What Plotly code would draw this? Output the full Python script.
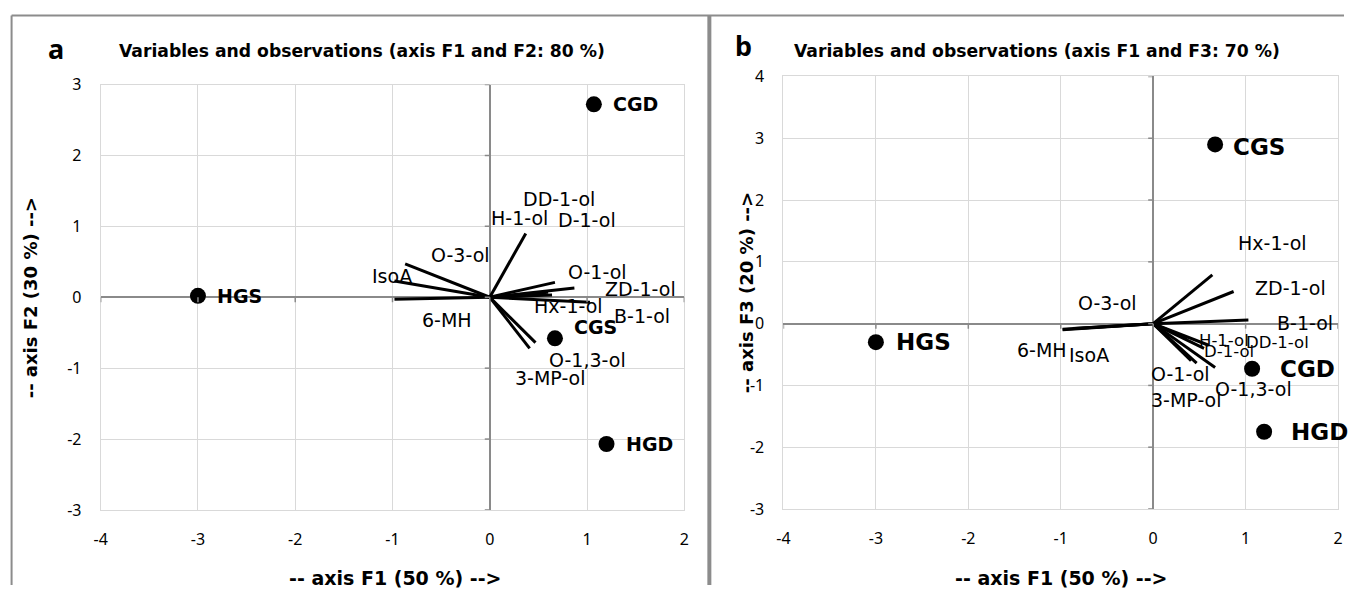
import plotly.graph_objects as go

# ---------------- data ----------------
var_names = ["H-1-ol", "DD-1-ol", "D-1-ol", "O-3-ol", "IsoA", "6-MH",
             "O-1-ol", "ZD-1-ol", "Hx-1-ol", "B-1-ol", "O-1,3-ol", "3-MP-ol"]
var_f1 = [0.37, 0.55, 0.60, -0.87, -0.98, -0.98, 0.67, 0.87, 0.64, 1.03, 0.47, 0.41]
var_f2 = [0.90, 0.04, 0.07, 0.47, 0.23, -0.03, 0.21, 0.13, 0.03, -0.07, -0.64, -0.72]
var_f3 = [-0.24, -0.40, -0.35, -0.08, -0.09, -0.10, -0.71, 0.52, 0.79, 0.06, -0.64, -0.60]

obs_names = ["HGS", "CGD", "CGS", "HGD"]
obs_f1 = [-3.0, 1.07, 0.67, 1.20]
obs_f2 = [0.02, 2.72, -0.58, -2.07]
obs_f3 = [-0.30, -0.73, 2.90, -1.75]

# label positions (data units)
lab_a_x = [0.31, 0.71, 1.00, -0.30, -1.01, -0.44, 1.11, 1.55, 0.81, 1.57, 1.00, 0.62]
lab_a_y = [1.12, 1.38, 1.09, 0.60, 0.30, -0.32, 0.36, 0.11, -0.13, -0.26, -0.88, -1.14]
lab_b_x = [0.77, 1.34, 0.82, -0.49, -0.69, -1.20, 0.30, 1.49, 1.29, 1.64, 1.08, 0.36]
lab_b_y = [-0.27, -0.30, -0.45, 0.34, -0.50, -0.43, -0.82, 0.58, 1.31, 0.01, -1.06, -1.24]
lab_b_small = ["H-1-ol", "DD-1-ol", "D-1-ol"]
obs_lab_a_dx = [17, 17, 17, 17]
obs_lab_a_dy = [0, 0, 11, 0]
obs_lab_b_dx = [18, 26, 16, 25]
obs_lab_b_dy = [0, 0, -3, 0]

xticks = [-4, -3, -2, -1, 0, 1, 2]
yticks_a = [-3, -2, -1, 0, 1, 2, 3]
yticks_b = [-3, -2, -1, 0, 1, 2, 3, 4]

titles = ["Variables and observations (axis F1 and F2: 80 %)",
          "Variables and observations (axis F1 and F3: 70 %)"]
xtitle = "-- axis F1 (50 %) -->"
ytitles = ["-- axis F2 (30 %) -->", "-- axis F3 (20 %) -->"]

# ---------------- figure ----------------
W, H = 1349, 596
# measured mapping of the page into the final picture (page margin + resize)
SX, OX = 0.99, 7.5
SY, OY = 0.962, 11.0


def X(px):
    return (px / SX - OX) / W


def Y(py):
    return 1 - (py / SY - OY) / H


FONT = "Noto Sans"
BFONT = "DejaVu Sans"
LFONT = "DejaVu Sans"
fig = go.Figure()


def segs(xs, ys):
    sx, sy = [], []
    for x, y in zip(xs, ys):
        sx += [0, x, None]
        sy += [0, y, None]
    return sx, sy


panels = [
    dict(xa="x", ya="y", vy=var_f2, oy=obs_f2, lx=lab_a_x, ly=lab_a_y,
         dx=obs_lab_a_dx, dy=obs_lab_a_dy, osize=19),
    dict(xa="x2", ya="y2", vy=var_f3, oy=obs_f3, lx=lab_b_x, ly=lab_b_y,
         dx=obs_lab_b_dx, dy=obs_lab_b_dy, osize=23),
]

for i, p in enumerate(panels):
    sx, sy = segs(var_f1, p["vy"])
    fig.add_trace(go.Scatter(x=sx, y=sy, mode="lines", xaxis=p["xa"], yaxis=p["ya"],
                             line=dict(color="black", width=3), hoverinfo="skip",
                             showlegend=False))
    fig.add_trace(go.Scatter(x=obs_f1, y=p["oy"], mode="markers", xaxis=p["xa"], yaxis=p["ya"],
                             marker=dict(color="black", size=16), showlegend=False))
    for n, x, y, dx, dy in zip(obs_names, obs_f1, p["oy"], p["dx"], p["dy"]):
        fig.add_annotation(x=x, y=y, xref=p["xa"], yref=p["ya"], text="<b>%s</b>" % n,
                           showarrow=False, xanchor="left", yanchor="middle",
                           xshift=dx, yshift=dy,
                           font=dict(family=BFONT, size=p["osize"], color="black"))
    for n, x, y in zip(var_names, p["lx"], p["ly"]):
        small = (i == 1 and n in lab_b_small)
        fig.add_annotation(x=x, y=y, xref=p["xa"], yref=p["ya"], text=n,
                           showarrow=False, xanchor="center", yanchor="middle",
                           font=dict(family=LFONT, size=16.5 if small else 19, color="black"))

axis_common = dict(showgrid=True, gridcolor="#d9d9d9", gridwidth=1,
                   zeroline=True, zerolinecolor="#8a8a8a", zerolinewidth=2,
                   showline=True, linecolor="#d9d9d9", linewidth=1, mirror=True,
                   ticks="", tickfont=dict(family=FONT, size=16, color="black"),
                   fixedrange=True)

fig.update_layout(
    width=W, height=H, margin=dict(l=0, r=0, t=0, b=0),
    paper_bgcolor="white", plot_bgcolor="white",
    xaxis=dict(domain=[X(101), X(684)], range=[-4, 2], tickvals=xticks,
               ticktext=[str(v) for v in xticks],
               anchor="y", ticklabelstandoff=15, **axis_common),
    yaxis=dict(domain=[Y(509), Y(84)], range=[-3, 3], tickvals=yticks_a,
               ticktext=[str(v) for v in yticks_a],
               anchor="x", ticklabelstandoff=15, **axis_common),
    xaxis2=dict(domain=[X(783), X(1337)], range=[-4, 2], tickvals=xticks,
                ticktext=[str(v) for v in xticks],
                anchor="y2", ticklabelstandoff=15, **axis_common),
    yaxis2=dict(domain=[Y(508), Y(76)], range=[-3, 4], tickvals=yticks_b,
                ticktext=[str(v) for v in yticks_b],
                anchor="x2", ticklabelstandoff=15, **axis_common),
)

# small tick marks on the zero axes
for xa, ya, yt in [("x", "y", yticks_a), ("x2", "y2", yticks_b)]:
    for v in yt:
        fig.add_shape(type="line", xref=xa, yref=ya, xsizemode="pixel", xanchor=0,
                      x0=-5, x1=0, y0=v, y1=v, line=dict(color="#8a8a8a", width=1.5))
    for v in xticks:
        fig.add_shape(type="line", xref=xa, yref=ya, ysizemode="pixel", yanchor=0,
                      y0=0, y1=-5, x0=v, x1=v, line=dict(color="#8a8a8a", width=1.5))

# panel frames
frame = "#8c8c8c"
fig.add_shape(type="line", xref="paper", yref="paper", x0=X(12), x1=X(12),
              y0=0, y1=Y(15), line=dict(color=frame, width=2))
fig.add_shape(type="line", xref="paper", yref="paper", x0=X(12), x1=1,
              y0=Y(15), y1=Y(15), line=dict(color=frame, width=2))
fig.add_shape(type="line", xref="paper", yref="paper", x0=X(709), x1=X(709),
              y0=0, y1=Y(15), line=dict(color=frame, width=4))

# titles and axis titles
for letter, lx, ly in [("a", 56, 48), ("b", 743, 45)]:
    fig.add_annotation(x=X(lx), y=Y(ly), xref="paper", yref="paper",
                       xanchor="center", yanchor="middle",
                       text="<b>%s</b>" % letter, showarrow=False,
                       font=dict(family=FONT, size=27, color="black"))
for t, tx, ty in [(titles[0], 117, 51), (titles[1], 792, 51)]:
    fig.add_annotation(x=X(tx), y=Y(ty), xref="paper", yref="paper",
                       xanchor="left", yanchor="middle",
                       text="<b>%s</b>" % t, showarrow=False,
                       font=dict(family=BFONT, size=17.2, color="black"))
for cx in [395, 1060]:
    fig.add_annotation(x=X(cx), y=Y(577), xref="paper", yref="paper",
                       xanchor="center", yanchor="middle",
                       text="<b>%s</b>" % xtitle, showarrow=False,
                       font=dict(family=BFONT, size=19, color="black"))
for t, cx, cy in [(ytitles[0], 31, 297), (ytitles[1], 746, 292)]:
    fig.add_annotation(x=X(cx), y=Y(cy), xref="paper", yref="paper",
                       xanchor="center", yanchor="middle",
                       text="<b>%s</b>" % t, showarrow=False, textangle=-90,
                       font=dict(family=BFONT, size=18, color="black"))

fig.write_html("out.html")
